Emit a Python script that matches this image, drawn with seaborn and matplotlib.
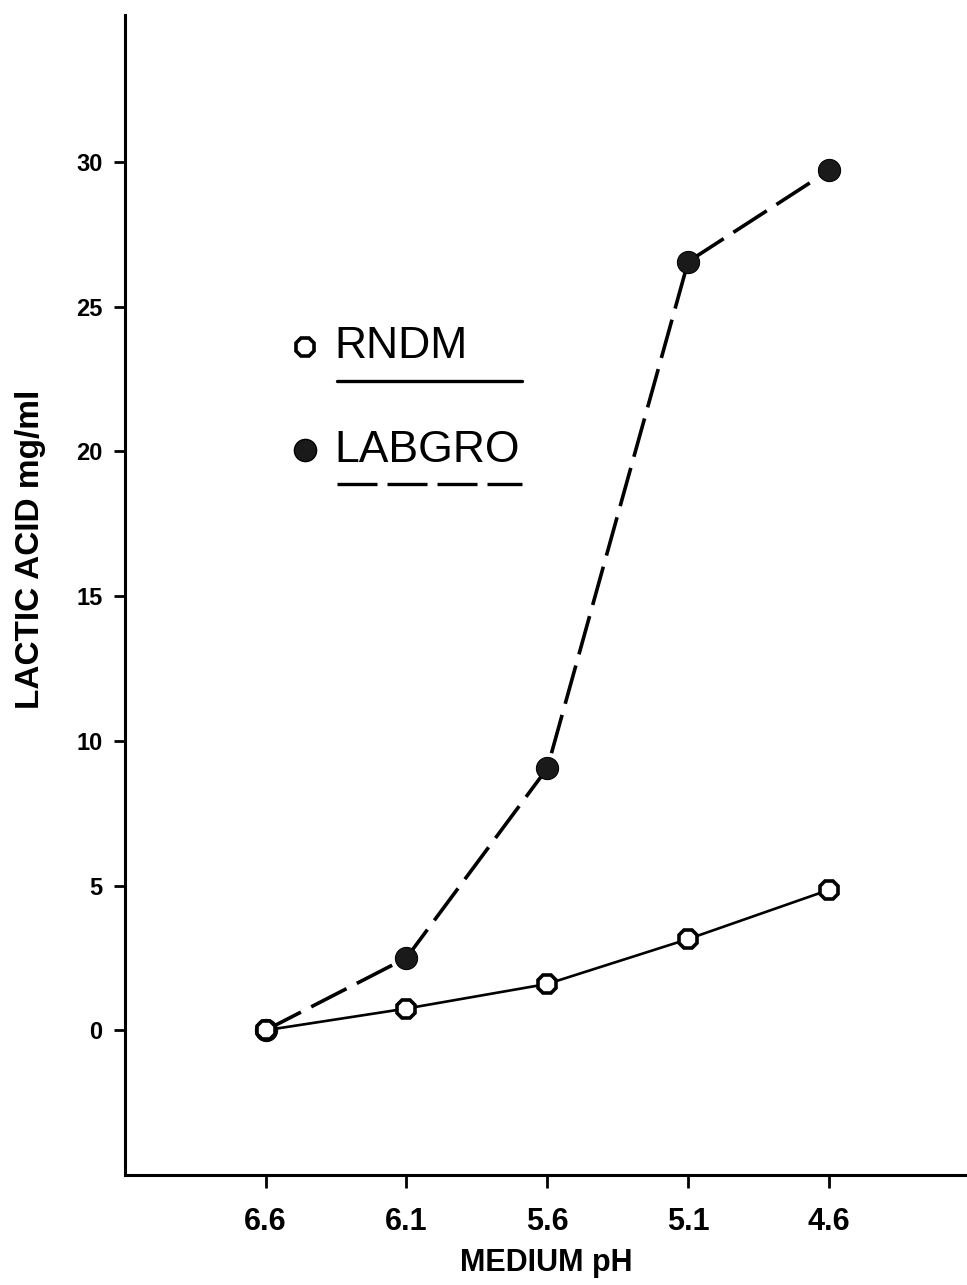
import matplotlib
matplotlib.use("Agg")
import matplotlib.pyplot as plt
import seaborn as sns
import pandas as pd

ph = [6.6, 6.1, 5.6, 5.1, 4.6]
ph_labels = ["6.6", "6.1", "5.6", "5.1", "4.6"]
rndm = [0.0, 0.75, 1.6, 3.15, 4.85]
labgro = [0.0, 2.5, 9.05, 26.55, 29.7]
yticks = [0, 5, 10, 15, 20, 25, 30]

sns.set_style("ticks")
plt.rcParams['font.family'] = ['Liberation Sans', 'DejaVu Sans']
plt.rcParams['text.color'] = 'black'
plt.rcParams['axes.labelcolor'] = 'black'
plt.rcParams['xtick.color'] = 'black'
plt.rcParams['ytick.color'] = 'black'
plt.rcParams['axes.edgecolor'] = 'black'

fig = plt.figure(figsize=(9.67, 12.85), dpi=100)
ax = fig.add_axes([0.129, 0.0856, 0.871, 0.9027])

df_r = pd.DataFrame({"ph": ph, "val": rndm})
df_l = pd.DataFrame({"ph": ph, "val": labgro})

sns.lineplot(data=df_l, x="ph", y="val", ax=ax, color="black", lw=2.6,
             zorder=2, estimator=None, sort=False, marker="o", markersize=16,
             markerfacecolor="#1a1a1a", markeredgecolor="black")
ax.lines[-1].set_dashes((11, 3.2))

sns.lineplot(data=df_r, x="ph", y="val", ax=ax, color="black", lw=1.9,
             zorder=3, estimator=None, sort=False, marker="8",
             markersize=14, markerfacecolor="white", markeredgecolor="black",
             markeredgewidth=2.6)

ax.set_xlim(7.1, 4.11)
ax.set_ylim(-5.0, 35.07)
ax.set_xticks(ph)
ax.set_xticklabels(ph_labels, fontsize=22, fontweight="bold")
ax.set_yticks(yticks)
ax.set_yticklabels([str(t) for t in yticks], fontsize=17, fontweight="bold")
ax.tick_params(axis="y", length=8, width=2, pad=8, direction="out")
ax.tick_params(axis="x", length=9, width=2, pad=14, direction="out")
for s in ["top", "right"]:
    ax.spines[s].set_visible(False)
for s in ["left", "bottom"]:
    ax.spines[s].set_linewidth(2.2)

ax.set_xlabel("MEDIUM pH", fontsize=22, fontweight="bold", labelpad=8)
ax.set_ylabel("LACTIC ACID mg/ml", fontsize=24, fontweight="bold")
ax.yaxis.set_label_coords(-0.094, 0.539)

# legend
ax.plot([0.2138], [0.714], transform=ax.transAxes, marker="8", markersize=14,
        markerfacecolor="white", markeredgecolor="black", markeredgewidth=2.6, clip_on=False)
ax.text(0.249, 0.714, "RNDM", transform=ax.transAxes, fontsize=32, va="center", ha="left")
ax.plot([0.252, 0.4715], [0.6845, 0.6845], transform=ax.transAxes, color="black", lw=2.4)
ax.plot([0.2138], [0.625], transform=ax.transAxes, marker="o", markersize=16,
        markerfacecolor="#1a1a1a", markeredgecolor="black", clip_on=False)
ax.text(0.249, 0.625, "LABGRO", transform=ax.transAxes, fontsize=32, va="center", ha="left")
ax.plot([0.252, 0.4715], [0.5957, 0.5957], transform=ax.transAxes, color="black", lw=2.4,
        dashes=(12, 3))

fig.savefig("out.png", dpi=100)
